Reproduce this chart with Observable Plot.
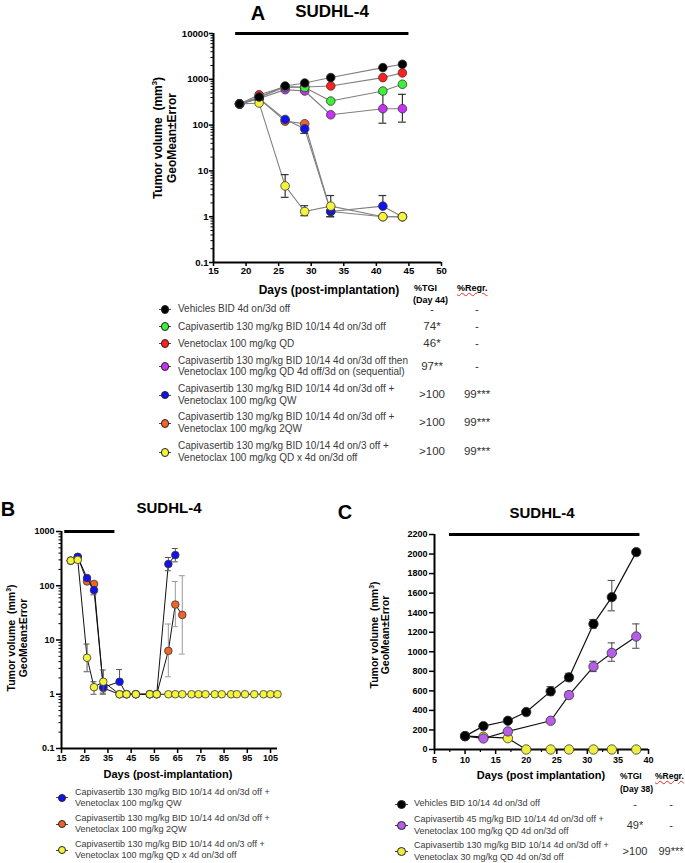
<!DOCTYPE html>
<html><head><meta charset="utf-8">
<script src="https://cdn.jsdelivr.net/npm/d3@7"></script>
<script src="https://cdn.jsdelivr.net/npm/@observablehq/plot@0.6"></script>
<style>
html,body{margin:0;padding:0;background:#fff;}
#fig{position:relative;width:685px;height:863px;overflow:hidden;font-family:"Liberation Sans",Arial,sans-serif;color:#000;}
.t{position:absolute;white-space:nowrap;}
sup{font-size:0.65em;line-height:0;}
</style></head><body><div id="fig"></div>
<script>
// ================= DATA =================
// ---- Panel A ----
const daysA = [19, 22, 26, 29, 33, 41, 44];
const vehicleA = [290, 410, 715, 830, 1090, 1800, 2130];
const capiA    = [290, 400, 680, 660, 335, 555, 780];
const venetoA  = [290, 460, 690, 680, 715, 1090, 1380];
const seqA     = [290, 380, 595, 555, 168, 228, 228];
const seqLoA   = [null, null, null, null, null, 110, 116];
const seqHiA   = [null, null, null, null, null, 500, 470];
const qwA      = [290, 380, 133, 83, 1.3, 1.7, 1];
const qwLoA    = [null, null, null, 66, 1.0, null, null];
const qwHiA    = [null, null, null, null, null, 2.9, null];
const twoQwA   = [290, 380, 122, 107, 1.3, 1, 1];
const qdA      = [290, 303, 4.7, 1.3, 1.7, 1, 1];
const qdLoA    = [null, null, 2.65, 1.05, 1.0, null, null];
const qdHiA    = [null, null, 8.3, 1.74, 2.9, null, null];
const xTicksA = [15, 20, 25, 30, 35, 40, 45, 50];
const yTicksA = [0.1, 1, 10, 100, 1000, 10000];
const dosingA = {from: 18.4, to: 45, level: 10000};

const legendNamesA = [
  ["Vehicles BID 4d on/3d off"],
  ["Capivasertib 130 mg/kg BID 10/14 4d on/3d off"],
  ["Venetoclax 100 mg/kg QD"],
  ["Capivasertib 130 mg/kg BID 10/14 4d on/3d off then", "Venetoclax 100 mg/kg QD 4d off/3d on (sequential)"],
  ["Capivasertib 130 mg/kg BID 10/14 4d on/3d off +", "Venetoclax 100 mg/kg QW"],
  ["Capivasertib 130 mg/kg BID 10/14 4d on/3d off +", "Venetoclax 100 mg/kg 2QW"],
  ["Capivasertib 130 mg/kg BID 10/14 4d on/3 off +", "Venetoclax 100 mg/kg QD x 4d on/3d off"]
];
const tgiA  = ["-", "74*", "46*", "97**", ">100", ">100", ">100"];
const regrA = ["-", "-", "-", "-", "99***", "99***", "99***"];

// ---- Panel B ----
const daysBqd = [19, 22, 26, 29, 33, 40, 43, 47, 53, 56, 61, 64, 67, 71, 74, 77, 81, 84, 88, 90.5, 94, 98, 102, 105, 108];
const qdB     = [290, 300, 4.7, 1.35, 1.7, 1, 1, 1, 1, 1, 1, 1, 1, 1, 1, 1, 1, 1, 1, 1, 1, 1, 1, 1, 1];
const qdLoB   = [null, null, 2.6, 1.0, 1.0, null, null, null, null, null, null, null, null, null, null, null, null, null, null, null, null, null, null, null, null];
const qdHiB   = [null, null, 8.4, 1.7, 2.8, null, null, null, null, null, null, null, null, null, null, null, null, null, null, null, null, null, null, null, null];
const daysBqw = [19, 22, 26, 29, 33, 40, 43, 47, 53, 56, 61, 64];
const qwB     = [290, 340, 139, 83, 1.35, 1.7, 1, 1, 1, 1, 251, 367];
const qwLoB   = [null, null, null, 68, 1.05, null, null, null, null, null, 189, 276];
const qwHiB   = [null, null, null, null, null, 2.85, null, null, null, null, 332, 486];
const daysB2qw = [19, 22, 26, 29, 33, 40, 43, 47, 53, 56, 61, 64, 67];
const twoQwB  = [290, 340, 120, 108, 1.3, 1, 1, 1, 1, 1, 6.3, 45, 29];
const twoQwLoB = [null, null, null, null, null, null, null, null, null, null, 2.1, 17.6, 5.5];
const twoQwHiB = [null, null, null, null, null, null, null, null, null, null, 19.7, 120, 153];
const xTicksB = [15, 25, 35, 45, 55, 65, 75, 85, 95, 105];
const yTicksB = [0.1, 1, 10, 100, 1000];
const dosingB = {from: 16.4, to: 38, level: 1000};
const legendNamesB = [
  ["Capivasertib 130 mg/kg BID 10/14 4d on/3d off +", "Venetoclax 100 mg/kg QW"],
  ["Capivasertib 130 mg/kg BID 10/14 4d on/3d off +", "Venetoclax 100 mg/kg 2QW"],
  ["Capivasertib 130 mg/kg BID 10/14 4d on/3 off +", "Venetoclax 100 mg/kg QD x 4d on/3d off"]
];

// ---- Panel C ----
const daysC = [10, 13, 17, 20, 24, 27, 31, 34, 38];
const vehicleC = [137, 239, 294, 383, 595, 738, 1285, 1559, 2020];
const vehicleLoC = [null, null, null, null, 555, 700, 1240, 1419, null];
const vehicleHiC = [null, null, null, null, 643, 780, 1330, 1730, null];
const daysCcombo = [10, 13, 17, 24, 27, 31, 34, 38];
const comboC = [137, 113, 185, 294, 557, 848, 988, 1156];
const comboLoC = [null, null, null, null, 530, 797, 903, 1036];
const comboHiC = [null, null, null, null, 590, 903, 1091, 1285];
const highC = [137, 130, 116, 0, 0, 0, 0, 0, 0];
const xTicksC = [5, 10, 15, 20, 25, 30, 35, 40];
const yTicksC = [0, 200, 400, 600, 800, 1000, 1200, 1400, 1600, 1800, 2000, 2200];
const dosingC = {from: 7.45, to: 38.6, level: 2200};
const legendNamesC = [
  ["Vehicles BID 10/14 4d on/3d off"],
  ["Capivasertib 45 mg/kg BID 10/14 4d on/3d off +", "Venetoclax 100 mg/kg QD 4d on/3d off"],
  ["Capivasertib 130 mg/kg BID 10/14 4d on/3d off +", "Venetoclax 30 mg/kg QD 4d on/3d off"]
];
const tgiC = ["-", "49*", ">100"];
const regrC = ["-", "-", "99***"];

// ================= COLOURS =================
const C_BLACK = "#000000", C_GREEN = "#3cf03c", C_RED = "#ff2020", C_PURPLE = "#c733f5",
      C_BLUE = "#1212f0", C_ORANGE = "#f0642a", C_YELLOW = "#f4f43c",
      C_PURPLE2 = "#b65ee8", C_YELLOW2 = "#eeee40";

// ================= HELPERS =================
const fig = document.getElementById("fig");
const FONT = "'Liberation Sans', Arial, sans-serif";

function seriesMarks(s, o) {
  const rows = s.days.map((d, i) => ({day: d, v: s.vals[i],
    lo: s.lo ? s.lo[i] : null, hi: s.hi ? s.hi[i] : null}));
  const errs = rows.filter(r => r.lo != null || r.hi != null);
  const ec = s.errColor || o.errColor;
  return [
    Plot.line(rows, {x: "day", y: "v", stroke: o.line, strokeWidth: o.lineWidth}),
    Plot.ruleX(errs, {x: "day", y1: r => r.lo ?? r.v, y2: r => r.hi ?? r.v, stroke: ec, strokeWidth: o.errWidth}),
    Plot.ruleY(errs.filter(r => r.lo != null), {y: "lo", x1: r => r.day - o.cap, x2: r => r.day + o.cap, stroke: ec, strokeWidth: o.errWidth}),
    Plot.ruleY(errs.filter(r => r.hi != null), {y: "hi", x1: r => r.day - o.cap, x2: r => r.day + o.cap, stroke: ec, strokeWidth: o.errWidth}),
    Plot.dot(rows, {x: "day", y: "v", r: o.r, fill: s.color, stroke: o.dotStroke, strokeWidth: o.dotStrokeWidth})
  ];
}
function minorLog(lo, hi) {
  const out = [];
  for (let p = lo; p < hi * 0.999; p *= 10) for (let k = 2; k < 10; k++) out.push(+(p * k).toPrecision(3));
  return out;
}
function place(svg, left, top) {
  svg.style.position = "absolute"; svg.style.left = left + "px"; svg.style.top = top + "px";
  fig.appendChild(svg);
}
function text(html, x, y, css = {}, anchor = "middle") {
  const d = document.createElement("div");
  d.className = "t"; d.innerHTML = html;
  d.style.left = x + "px"; d.style.top = y + "px";
  d.style.lineHeight = "1.05";
  const tx = anchor === "middle" ? "-50%" : anchor === "end" ? "-100%" : "0";
  d.style.transform = `translate(${tx},-50%)`;
  Object.assign(d.style, css);
  fig.appendChild(d);
  return d;
}
function vtext(lines, cx, cy, css) {
  const d = document.createElement("div");
  d.className = "t"; d.innerHTML = lines.join("<br>");
  d.style.left = cx + "px"; d.style.top = cy + "px"; d.style.textAlign = "center";
  d.style.transform = "translate(-50%,-50%) rotate(-90deg)";
  Object.assign(d.style, css);
  fig.appendChild(d);
}
function marker(x, y, color, r) {
  const l = document.createElement("div");
  Object.assign(l.style, {position: "absolute", left: (x - r - 2) + "px", top: (y - 0.5) + "px",
    width: (2 * r + 4) + "px", height: "1px", background: "#444"});
  fig.appendChild(l);
  const c = document.createElement("div");
  Object.assign(c.style, {position: "absolute", left: (x - r) + "px", top: (y - r) + "px",
    width: (2 * r) + "px", height: (2 * r) + "px", borderRadius: "50%", background: color,
    boxSizing: "border-box", border: "1px solid #222"});
  fig.appendChild(c);
}
function legendRow(x, y, color, r, lines, textX, font, lh) {
  marker(x, y, color, r);
  text(lines.join("<br>"), textX, y, {fontSize: font + "px", lineHeight: lh + "px", color: "#3a3a3a"}, "start");
}
const plotStyle = (fs) => ({fontFamily: FONT, fontSize: fs + "px", fontWeight: "bold", color: "#000",
  background: "transparent", overflow: "visible"});

// ================= PANEL A =================
const seriesA = [
  {days: daysA, vals: seqA, lo: seqLoA, hi: seqHiA, color: C_PURPLE},
  {days: daysA, vals: venetoA, color: C_RED},
  {days: daysA, vals: capiA, color: C_GREEN},
  {days: daysA, vals: twoQwA, color: C_ORANGE},
  {days: daysA, vals: qwA, lo: qwLoA, hi: qwHiA, color: C_BLUE},
  {days: daysA, vals: qdA, lo: qdLoA, hi: qdHiA, color: C_YELLOW},
  {days: daysA, vals: vehicleA, color: C_BLACK}
];
const optsA = {line: "#808080", lineWidth: 1.1, errColor: "#333", errWidth: 1.2, cap: 0.6, r: 4.3, dotStroke: "#333", dotStrokeWidth: 0.8};
const plotA = Plot.plot({
  width: 300, height: 270, marginLeft: 63, marginRight: 9, marginTop: 13, marginBottom: 28,
  x: {domain: [15, 50], label: null}, y: {type: "log", domain: [0.1, 10000], label: null},
  style: plotStyle(9.6),
  marks: [
    Plot.axisY(minorLog(0.1, 10000), {tickSize: 2.5, tickFormat: () => "", label: null, strokeWidth: 1}),
    Plot.axisY(yTicksA, {tickSize: 4, tickPadding: 1, tickFormat: d => String(d), strokeWidth: 1.5, label: null}),
    Plot.axisX(xTicksA, {tickSize: 4, tickPadding: 1, strokeWidth: 1.5, label: null}),
    Plot.ruleX([15], {strokeWidth: 2}),
    Plot.ruleY([0.1], {strokeWidth: 2}),
    Plot.ruleY([dosingA], {y: "level", x1: "from", x2: "to", strokeWidth: 3}),
    ...seriesA.flatMap(s => seriesMarks(s, optsA))
  ]
});
place(plotA, 150, 20);

text("A", 258, 13, {fontSize: "20px", fontWeight: "bold"});
text("SUDHL-4", 332, 12, {fontSize: "17px", fontWeight: "bold"});
vtext(["Tumor volume&nbsp; (mm<sup>3</sup>)", "GeoMean±Error"], 166, 138, {fontSize: "12px", fontWeight: "bold", lineHeight: "13.7px"});
text("Days (post-implantation)", 329, 290, {fontSize: "12px", fontWeight: "bold"});
text("%TGI", 414, 288, {fontSize: "9px", fontWeight: "bold", lineHeight: "1"}, "start");
text("(Day 44)", 413, 300, {fontSize: "9px", fontWeight: "bold", lineHeight: "1"}, "start");
text("%Regr.", 457, 288, {fontSize: "9px", fontWeight: "bold", lineHeight: "1", textDecoration: "underline wavy #e03030", textDecorationThickness: "1px"}, "start");
const colorsA = [C_BLACK, C_GREEN, C_RED, C_PURPLE, C_BLUE, C_ORANGE, C_YELLOW];
const rowYA = [309.3, 326.7, 343.7, 366.7, 395, 423.3, 452.3];
legendNamesA.forEach((lines, i) => {
  legendRow(165, rowYA[i], colorsA[i], 4.3, lines, 178, 10, 11.7);
  text(tgiA[i], 432, rowYA[i] + (i === 0 ? 1 : 0), {fontSize: "11.5px", color: "#333", lineHeight: "1"});
  text(regrA[i], 477, rowYA[i] + (i === 0 ? 1 : 0), {fontSize: "11.5px", color: "#333", lineHeight: "1"});
});

// ================= PANEL B =================
const seriesB = [
  {days: daysB2qw, vals: twoQwB, lo: twoQwLoB, hi: twoQwHiB, color: C_ORANGE, errColor: "#999"},
  {days: daysBqw, vals: qwB, lo: qwLoB, hi: qwHiB, color: C_BLUE},
  {days: daysBqd, vals: qdB, lo: qdLoB, hi: qdHiB, color: C_YELLOW}
];
const optsB = {line: "#111", lineWidth: 1, errColor: "#555", errWidth: 1, cap: 1.3, r: 3.8, dotStroke: "#333", dotStrokeWidth: 0.8};
const plotB = Plot.plot({
  width: 290, height: 250, marginLeft: 61, marginRight: 13, marginTop: 16, marginBottom: 17,
  x: {domain: [15, 108], label: null}, y: {type: "log", domain: [0.1, 1000], label: null},
  style: plotStyle(9),
  marks: [
    Plot.axisY(minorLog(0.1, 1000), {tickSize: 2.5, tickFormat: () => "", label: null, strokeWidth: 1}),
    Plot.axisY(yTicksB, {tickSize: 5, tickPadding: 2, tickFormat: d => String(d), strokeWidth: 1.5, label: null}),
    Plot.axisX(xTicksB, {tickSize: 5, tickPadding: 1, strokeWidth: 1.5, label: null}),
    Plot.ruleX([15], {strokeWidth: 2}),
    Plot.ruleY([0.1], {strokeWidth: 2}),
    Plot.ruleY([dosingB], {y: "level", x1: "from", x2: "to", strokeWidth: 3}),
    ...seriesB.flatMap(s => seriesMarks(s, optsB))
  ]
});
place(plotB, 0, 515);

text("B", 8, 509, {fontSize: "20px", fontWeight: "bold"});
text("SUDHL-4", 169, 508, {fontSize: "15px", fontWeight: "bold"});
vtext(["Tumor volume&nbsp; (mm<sup>3</sup>)", "GeoMean±Error"], 17.5, 638, {fontSize: "10.5px", fontWeight: "bold", lineHeight: "11.6px"});
text("Days (post-implantation)", 168, 775, {fontSize: "11px", fontWeight: "bold"});
const colorsB = [C_BLUE, C_ORANGE, C_YELLOW];
const rowYB = [797.5, 824.3, 850];
legendNamesB.forEach((lines, i) => legendRow(62, rowYB[i], colorsB[i], 4, lines, 75, 9, 11));

// ================= PANEL C =================
const seriesC = [
  {days: daysC, vals: highC, color: C_YELLOW2},
  {days: daysCcombo, vals: comboC, lo: comboLoC, hi: comboHiC, color: C_PURPLE2},
  {days: daysC, vals: vehicleC, lo: vehicleLoC, hi: vehicleHiC, color: C_BLACK}
];
const optsC = {line: "#111", lineWidth: 1.2, errColor: "#444", errWidth: 1, cap: 0.6, r: 4.7, dotStroke: "#333", dotStrokeWidth: 0.8};
const minorXC = xTicksC.slice(0, -1).map(d => d + 2.5);
const plotC = Plot.plot({
  width: 300, height: 250, marginLeft: 74, marginRight: 12, marginTop: 14, marginBottom: 21,
  x: {domain: [5, 40], label: null}, y: {domain: [0, 2200], label: null},
  style: plotStyle(9),
  marks: [
    Plot.axisY(yTicksC, {tickSize: 5, tickPadding: 2, strokeWidth: 1.5, label: null, tickFormat: d => String(d)}),
    Plot.axisX(minorXC, {tickSize: 3, tickFormat: () => "", label: null, strokeWidth: 1.2}),
    Plot.axisX(xTicksC, {tickSize: 5, tickPadding: 2, strokeWidth: 1.5, label: null}),
    Plot.ruleX([5], {strokeWidth: 2}),
    Plot.ruleY([0], {strokeWidth: 2}),
    Plot.ruleY([dosingC], {y: "level", x1: "from", x2: "to", strokeWidth: 3}),
    ...seriesC.flatMap(s => seriesMarks(s, optsC))
  ]
});
place(plotC, 360, 520);

text("C", 345, 512, {fontSize: "20px", fontWeight: "bold"});
text("SUDHL-4", 542, 513, {fontSize: "15px", fontWeight: "bold"});
vtext(["Tumor volume&nbsp; (mm<sup>3</sup>)", "GeoMean±Error"], 379.5, 635, {fontSize: "10.5px", fontWeight: "bold", lineHeight: "10.7px"});
text("Days (post implantation)", 541, 776, {fontSize: "11px", fontWeight: "bold"});
text("%TGI", 620, 776, {fontSize: "8.5px", fontWeight: "bold", lineHeight: "1"}, "start");
text("(Day 38)", 620, 789, {fontSize: "8.5px", fontWeight: "bold", lineHeight: "1"}, "start");
text("%Regr.", 655, 776, {fontSize: "8.5px", fontWeight: "bold", lineHeight: "1", textDecoration: "underline wavy #e03030", textDecorationThickness: "1px"}, "start");
const colorsC = [C_BLACK, C_PURPLE2, C_YELLOW2];
const rowYC = [804.3, 825, 851];
legendNamesC.forEach((lines, i) => {
  legendRow(401.7, rowYC[i], colorsC[i], 4.5, lines, 414, 9, 11.5);
  text(tgiC[i], 635, rowYC[i], {fontSize: "11px", color: "#333", lineHeight: "1"});
  text(regrC[i], 671, rowYC[i], {fontSize: "11px", color: "#333", lineHeight: "1"});
});
</script></body></html>
